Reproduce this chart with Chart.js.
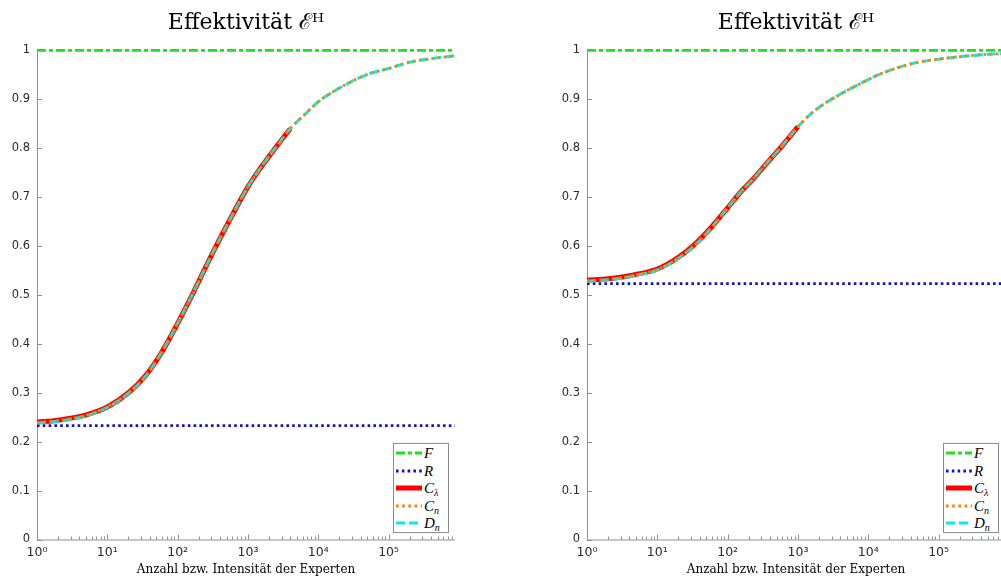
<!DOCTYPE html>
<html><head><meta charset="utf-8">
<script src="https://cdn.jsdelivr.net/npm/chart.js@4.4.1/dist/chart.umd.min.js"></script>
<style>
html,body{margin:0;padding:0;width:1001px;height:581px;overflow:hidden;background:#fff;}
.panel{position:absolute;top:0;width:492px;height:581px;}
.panel canvas{position:absolute;left:0;top:0;}
.legend{position:absolute;left:393px;top:443px;width:56px;height:90px;border:1px solid #8c8c8c;background:#fff;box-sizing:border-box;font-family:"Liberation Serif",serif;font-style:italic;font-size:15px;color:#000;}
.row{position:absolute;left:2px;height:16px;display:flex;align-items:center;white-space:nowrap;line-height:16px;}
.row svg{width:26px;height:8px;margin-right:2px;flex:none;}
.row sub{font-size:10px;line-height:0;vertical-align:-3px;}
</style></head>
<body>
<div class="panel" id="p1" style="left:0px"><canvas id="c1" width="492" height="581"></canvas></div>
<div class="panel" id="p2" style="left:550px"><canvas id="c2" width="492" height="581"></canvas></div>
<script>
// ---- data ----
const xMin = 1;
const xMax = 880000;
const xTickExponents = [0, 1, 2, 3, 4, 5];
const yTickValues = [0, 0.1, 0.2, 0.3, 0.4, 0.5, 0.6, 0.7, 0.8, 0.9, 1];
const titleText = 'Effektivität ℰᴴ';
const xTitleText = 'Anzahl bzw. Intensität der Experten';
const seriesNames = ['F', 'R', 'Cλ', 'Cn', 'Dn'];

// left panel
const leftX  = [1, 2, 3, 5, 10, 20, 35, 60, 100, 170, 300, 500, 1000, 1500, 2500, 4000, 7000, 10000, 20000, 50000, 100000, 200000, 400000, 880000];
const leftCn = [0.239, 0.243, 0.247, 0.254, 0.271, 0.300, 0.335, 0.384, 0.442, 0.507, 0.580, 0.642, 0.721, 0.759, 0.802, 0.840, 0.874, 0.895, 0.923, 0.951, 0.963, 0.976, 0.983, 0.989];
const leftDn = [0.238, 0.242, 0.246, 0.253, 0.270, 0.299, 0.334, 0.384, 0.442, 0.507, 0.580, 0.642, 0.721, 0.759, 0.802, 0.840, 0.874, 0.895, 0.923, 0.951, 0.963, 0.976, 0.983, 0.989];
const leftClX = [1, 2, 3, 5, 10, 20, 35, 60, 100, 170, 300, 500, 1000, 1500, 2500, 4000];
const leftCl  = [0.240, 0.244, 0.248, 0.255, 0.271, 0.300, 0.335, 0.384, 0.442, 0.507, 0.580, 0.642, 0.721, 0.759, 0.802, 0.840];
const leftF = [1, 1];
const leftR = [0.233, 0.233];

// right panel
const rightX  = [1, 2, 3, 5, 10, 20, 35, 60, 100, 150, 220, 330, 550, 1000, 1700, 3000, 7000, 15000, 45000, 130000, 400000, 880000];
const rightCn = [0.529, 0.532, 0.535, 0.541, 0.552, 0.576, 0.604, 0.639, 0.678, 0.709, 0.734, 0.763, 0.799, 0.844, 0.876, 0.900, 0.929, 0.952, 0.974, 0.984, 0.991, 0.994];
const rightDn = [0.528, 0.531, 0.534, 0.540, 0.551, 0.575, 0.603, 0.639, 0.678, 0.709, 0.734, 0.763, 0.799, 0.844, 0.876, 0.900, 0.929, 0.952, 0.974, 0.984, 0.991, 0.994];
const rightClX = [1, 2, 3, 5, 10, 20, 35, 60, 100, 150, 220, 330, 550, 1000];
const rightCl  = [0.530, 0.533, 0.536, 0.542, 0.553, 0.577, 0.605, 0.640, 0.678, 0.709, 0.734, 0.763, 0.799, 0.844];
const rightF = [1, 1];
const rightR = [0.523, 0.523];

// ---- styles ----
const styles = [
  {color: 'rgb(28,226,28)', width: 2.8, dash: [9, 3, 4, 3], order: 4},
  {color: 'rgb(16,16,210)', width: 2.8, dash: [2.6, 3.2], order: 3},
  {color: 'rgb(255,0,0)',   width: 5,   dash: [],        order: 2},
  {color: 'rgb(255,128,0)', width: 2.8, dash: [2.6, 3.6], order: 0},
  {color: 'rgb(0,238,238)', width: 3,   dash: [9, 4],    order: 1}
];

const supDigits = ['⁰','¹','²','³','⁴','⁵','⁶'];

function pts(xs, ys){ return xs.map((x, i) => ({x: x, y: ys[i]})); }

const inwardTicks = {
  id: 'inwardTicks',
  beforeDatasetsDraw(chart){
    const ctx = chart.ctx, a = chart.chartArea, x = chart.scales.x, y = chart.scales.y;
    ctx.save();
    ctx.strokeStyle = '#8f8f8f';
    ctx.lineWidth = 1;
    ctx.beginPath();
    ctx.moveTo(a.left + 0.5, a.top);
    ctx.lineTo(a.left + 0.5, a.bottom + 0.5);
    ctx.lineTo(a.right, a.bottom + 0.5);
    yTickValues.forEach(v => {
      const py = Math.round(y.getPixelForValue(v)) + 0.5;
      ctx.moveTo(a.left, py); ctx.lineTo(a.left + 5, py);
    });
    for (let k = 0; k <= 6; k++) {
      for (let m = 1; m <= 9; m++) {
        const v = m * Math.pow(10, k);
        if (v > xMax) continue;
        const px = Math.round(x.getPixelForValue(v)) + 0.5;
        const len = m === 1 ? 5 : 3;
        ctx.moveTo(px, a.bottom); ctx.lineTo(px, a.bottom - len);
      }
    }
    ctx.stroke();
    ctx.restore();
  }
};

function makeChart(canvasId, panelId, xs, cn, dn, clx, cl, f, r){
  const data = [
    pts([xMin, xMax], f),
    pts([xMin, xMax], r),
    pts(clx, cl),
    pts(xs, cn),
    pts(xs, dn)
  ];
  const datasets = data.map((d, i) => ({
    label: seriesNames[i],
    data: d,
    borderColor: styles[i].color,
    backgroundColor: styles[i].color,
    borderWidth: styles[i].width,
    borderDash: styles[i].dash,
    borderCapStyle: 'butt',
    pointRadius: 0,
    fill: false,
    cubicInterpolationMode: 'monotone',
    order: styles[i].order,
    clip: false
  }));
  new Chart(document.getElementById(canvasId), {
    type: 'line',
    data: {datasets: datasets},
    plugins: [inwardTicks],
    options: {
      responsive: false,
      animation: false,
      events: [],
      layout: {padding: 0},
      plugins: {
        legend: {display: false},
        tooltip: {enabled: false},
        title: {
          display: true,
          text: titleText,
          color: '#000',
          font: {family: 'DejaVu Serif', size: 22, weight: 'normal', lineHeight: 1.2},
          padding: {top: 10, bottom: 14}
        }
      },
      scales: {
        x: {
          type: 'logarithmic',
          min: xMin, max: xMax,
          grid: {display: false, drawTicks: false},
          border: {display: false},
          afterBuildTicks: s => { s.ticks = xTickExponents.map(e => ({value: Math.pow(10, e)})); },
          afterFit: s => { s.height = 41.5; },
          ticks: {
            autoSkip: false, maxRotation: 0, padding: 6,
            color: '#2a2a2a', font: {family: 'DejaVu Sans', size: 12.5},
            callback: v => '10' + supDigits[Math.round(Math.log10(v))]
          },
          title: {display: true, text: xTitleText, color: '#000',
                  font: {family: 'DejaVu Serif', size: 12}, padding: {top: 0, bottom: 4}}
        },
        y: {
          type: 'linear', position: 'left',
          min: 0, max: 1,
          grid: {display: false, drawTicks: false},
          border: {display: false},
          afterBuildTicks: s => { s.ticks = yTickValues.map(v => ({value: v})); },
          afterFit: s => { s.width = 37; },
          ticks: {
            padding: 7, color: '#2a2a2a', font: {family: 'DejaVu Sans', size: 11.5},
            callback: v => (v === 0 ? '0' : v === 1 ? '1' : v.toFixed(1))
          }
        },
        yPad: {
          type: 'linear', position: 'right', display: true,
          grid: {display: false, drawTicks: false},
          border: {display: false},
          ticks: {display: false},
          afterFit: s => { s.width = 37; }
        }
      }
    }
  });
  // legend overlay built from dataset styles
  const lg = document.createElement('div');
  lg.className = 'legend';
  const labelsHtml = ['F', 'R', 'C<sub>λ</sub>', 'C<sub>n</sub>', 'D<sub>n</sub>'];
  const tops = [1, 18.5, 36, 53.5, 71];
  styles.forEach((st, i) => {
    const row = document.createElement('div');
    row.className = 'row';
    row.style.top = tops[i] + 'px';
    row.innerHTML = '<svg viewBox="0 0 26 8"><line x1="0" y1="4" x2="26" y2="4" stroke="' + st.color +
      '" stroke-width="' + st.width + '" stroke-dasharray="' + (st.dash.length ? st.dash.join(' ') : 'none') +
      '"/></svg><span>' + labelsHtml[i] + '</span>';
    lg.appendChild(row);
  });
  document.getElementById(panelId).appendChild(lg);
}

makeChart('c1', 'p1', leftX, leftCn, leftDn, leftClX, leftCl, leftF, leftR);
makeChart('c2', 'p2', rightX, rightCn, rightDn, rightClX, rightCl, rightF, rightR);
</script>
</body></html>
